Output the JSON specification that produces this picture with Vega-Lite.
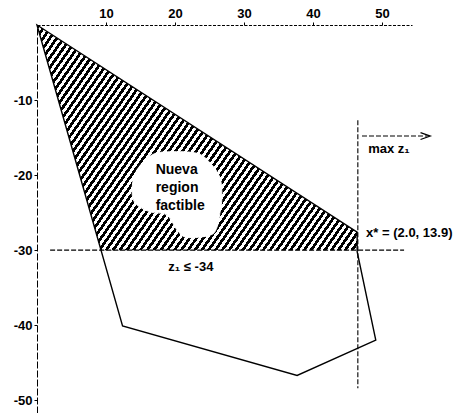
{
  "$schema": "https://vega.github.io/schema/vega-lite/v6.json",
  "width": 375,
  "height": 388,
  "autosize": {"type": "none"},
  "padding": {"left": 37, "top": 25, "right": 47, "bottom": 0},
  "background": "white",
  "config": {
    "view": {"stroke": null},
    "text": {"font": "Liberation Sans", "fontWeight": "bold", "fontSize": 13, "color": "black"},
    "axis": {
      "labelFont": "Liberation Sans",
      "labelFontWeight": "bold",
      "labelFontSize": 13,
      "labelColor": "black",
      "domainColor": "black",
      "tickColor": "black",
      "tickSize": 3,
      "labelPadding": 2,
      "grid": false,
      "title": null
    }
  },
  "datasets": {
    "hatch": [
      {"x": 0, "top": 0, "bottom": 0},
      {"x": 9.28, "top": -5.52, "bottom": -30},
      {"x": 46.4, "top": -27.6, "bottom": -30}
    ],
    "polygon": [
      {"i": 0, "x": 0, "y": 0},
      {"i": 1, "x": 46.4, "y": -27.6},
      {"i": 2, "x": 46.4, "y": -30.2},
      {"i": 3, "x": 49.1, "y": -42},
      {"i": 4, "x": 37.7, "y": -46.7},
      {"i": 5, "x": 12.4, "y": -40.1}
    ],
    "blob": [
      {"i": 0, "x": 16.7, "y": -17.3},
      {"i": 1, "x": 19.3, "y": -16.9},
      {"i": 2, "x": 23.2, "y": -17.1},
      {"i": 3, "x": 25.1, "y": -18.4},
      {"i": 4, "x": 26.5, "y": -20.3},
      {"i": 5, "x": 26.8, "y": -22.9},
      {"i": 6, "x": 26.5, "y": -25.1},
      {"i": 7, "x": 26.1, "y": -26.9},
      {"i": 8, "x": 25.1, "y": -28.0},
      {"i": 9, "x": 21.7, "y": -28.3},
      {"i": 10, "x": 20.3, "y": -27.3},
      {"i": 11, "x": 18.8, "y": -25.3},
      {"i": 12, "x": 16.4, "y": -24.9},
      {"i": 13, "x": 14.2, "y": -23.7},
      {"i": 14, "x": 13.8, "y": -21.6},
      {"i": 15, "x": 14.5, "y": -19.3}
    ],
    "guides": [
      {"x": 1.9, "x2": 53.2, "y": -30, "y2": -30},
      {"x": 46.5, "x2": 46.5, "y": -12.7, "y2": -48.4},
      {"x": 47.1, "x2": 56.6, "y": -14.8, "y2": -14.8}
    ],
    "arrowhead": [
      {"x": 57, "y": -14.8}
    ],
    "labels": [
      {"x": 17.2, "y": -19.8, "text": "Nueva", "kind": "blob"},
      {"x": 17.2, "y": -22.3, "text": "region", "kind": "blob"},
      {"x": 17.2, "y": -24.7, "text": "factible", "kind": "blob"},
      {"x": 48.0, "y": -17.1, "text": "max z₁", "kind": "left"},
      {"x": 47.7, "y": -28.3, "text": "x* = (2.0, 13.9)", "kind": "left"}
    ],
    "centered": [
      {"x": 22.3, "y": -32.8, "text": "z₁ ≤ -34"}
    ]
  },
  "layer": [
    {
      "data": {"name": "hatch"},
      "mark": {
        "type": "area",
        "stroke": null,
        "fill": {
          "gradient": "linear",
          "x1": 0, "y1": 0, "x2": 1.201, "y2": 0.592,
          "stops": [
            {"offset":0,"color":"#000"},{"offset":0.0071,"color":"#000"},{"offset":0.0071,"color":"#fff"},{"offset":0.0143,"color":"#fff"},
            {"offset":0.0143,"color":"#000"},{"offset":0.0214,"color":"#000"},{"offset":0.0214,"color":"#fff"},{"offset":0.0286,"color":"#fff"},
            {"offset":0.0286,"color":"#000"},{"offset":0.0357,"color":"#000"},{"offset":0.0357,"color":"#fff"},{"offset":0.0429,"color":"#fff"},
            {"offset":0.0429,"color":"#000"},{"offset":0.05,"color":"#000"},{"offset":0.05,"color":"#fff"},{"offset":0.0571,"color":"#fff"},
            {"offset":0.0571,"color":"#000"},{"offset":0.0643,"color":"#000"},{"offset":0.0643,"color":"#fff"},{"offset":0.0714,"color":"#fff"},
            {"offset":0.0714,"color":"#000"},{"offset":0.0786,"color":"#000"},{"offset":0.0786,"color":"#fff"},{"offset":0.0857,"color":"#fff"},
            {"offset":0.0857,"color":"#000"},{"offset":0.0929,"color":"#000"},{"offset":0.0929,"color":"#fff"},{"offset":0.1,"color":"#fff"},
            {"offset":0.1,"color":"#000"},{"offset":0.1071,"color":"#000"},{"offset":0.1071,"color":"#fff"},{"offset":0.1143,"color":"#fff"},
            {"offset":0.1143,"color":"#000"},{"offset":0.1214,"color":"#000"},{"offset":0.1214,"color":"#fff"},{"offset":0.1286,"color":"#fff"},
            {"offset":0.1286,"color":"#000"},{"offset":0.1357,"color":"#000"},{"offset":0.1357,"color":"#fff"},{"offset":0.1429,"color":"#fff"},
            {"offset":0.1429,"color":"#000"},{"offset":0.15,"color":"#000"},{"offset":0.15,"color":"#fff"},{"offset":0.1571,"color":"#fff"},
            {"offset":0.1571,"color":"#000"},{"offset":0.1643,"color":"#000"},{"offset":0.1643,"color":"#fff"},{"offset":0.1714,"color":"#fff"},
            {"offset":0.1714,"color":"#000"},{"offset":0.1786,"color":"#000"},{"offset":0.1786,"color":"#fff"},{"offset":0.1857,"color":"#fff"},
            {"offset":0.1857,"color":"#000"},{"offset":0.1929,"color":"#000"},{"offset":0.1929,"color":"#fff"},{"offset":0.2,"color":"#fff"},
            {"offset":0.2,"color":"#000"},{"offset":0.2071,"color":"#000"},{"offset":0.2071,"color":"#fff"},{"offset":0.2143,"color":"#fff"},
            {"offset":0.2143,"color":"#000"},{"offset":0.2214,"color":"#000"},{"offset":0.2214,"color":"#fff"},{"offset":0.2286,"color":"#fff"},
            {"offset":0.2286,"color":"#000"},{"offset":0.2357,"color":"#000"},{"offset":0.2357,"color":"#fff"},{"offset":0.2429,"color":"#fff"},
            {"offset":0.2429,"color":"#000"},{"offset":0.25,"color":"#000"},{"offset":0.25,"color":"#fff"},{"offset":0.2571,"color":"#fff"},
            {"offset":0.2571,"color":"#000"},{"offset":0.2643,"color":"#000"},{"offset":0.2643,"color":"#fff"},{"offset":0.2714,"color":"#fff"},
            {"offset":0.2714,"color":"#000"},{"offset":0.2786,"color":"#000"},{"offset":0.2786,"color":"#fff"},{"offset":0.2857,"color":"#fff"},
            {"offset":0.2857,"color":"#000"},{"offset":0.2929,"color":"#000"},{"offset":0.2929,"color":"#fff"},{"offset":0.3,"color":"#fff"},
            {"offset":0.3,"color":"#000"},{"offset":0.3071,"color":"#000"},{"offset":0.3071,"color":"#fff"},{"offset":0.3143,"color":"#fff"},
            {"offset":0.3143,"color":"#000"},{"offset":0.3214,"color":"#000"},{"offset":0.3214,"color":"#fff"},{"offset":0.3286,"color":"#fff"},
            {"offset":0.3286,"color":"#000"},{"offset":0.3357,"color":"#000"},{"offset":0.3357,"color":"#fff"},{"offset":0.3429,"color":"#fff"},
            {"offset":0.3429,"color":"#000"},{"offset":0.35,"color":"#000"},{"offset":0.35,"color":"#fff"},{"offset":0.3571,"color":"#fff"},
            {"offset":0.3571,"color":"#000"},{"offset":0.3643,"color":"#000"},{"offset":0.3643,"color":"#fff"},{"offset":0.3714,"color":"#fff"},
            {"offset":0.3714,"color":"#000"},{"offset":0.3786,"color":"#000"},{"offset":0.3786,"color":"#fff"},{"offset":0.3857,"color":"#fff"},
            {"offset":0.3857,"color":"#000"},{"offset":0.3929,"color":"#000"},{"offset":0.3929,"color":"#fff"},{"offset":0.4,"color":"#fff"},
            {"offset":0.4,"color":"#000"},{"offset":0.4071,"color":"#000"},{"offset":0.4071,"color":"#fff"},{"offset":0.4143,"color":"#fff"},
            {"offset":0.4143,"color":"#000"},{"offset":0.4214,"color":"#000"},{"offset":0.4214,"color":"#fff"},{"offset":0.4286,"color":"#fff"},
            {"offset":0.4286,"color":"#000"},{"offset":0.4357,"color":"#000"},{"offset":0.4357,"color":"#fff"},{"offset":0.4429,"color":"#fff"},
            {"offset":0.4429,"color":"#000"},{"offset":0.45,"color":"#000"},{"offset":0.45,"color":"#fff"},{"offset":0.4571,"color":"#fff"},
            {"offset":0.4571,"color":"#000"},{"offset":0.4643,"color":"#000"},{"offset":0.4643,"color":"#fff"},{"offset":0.4714,"color":"#fff"},
            {"offset":0.4714,"color":"#000"},{"offset":0.4786,"color":"#000"},{"offset":0.4786,"color":"#fff"},{"offset":0.4857,"color":"#fff"},
            {"offset":0.4857,"color":"#000"},{"offset":0.4929,"color":"#000"},{"offset":0.4929,"color":"#fff"},{"offset":0.5,"color":"#fff"},
            {"offset":0.5,"color":"#000"},{"offset":0.5071,"color":"#000"},{"offset":0.5071,"color":"#fff"},{"offset":0.5143,"color":"#fff"},
            {"offset":0.5143,"color":"#000"},{"offset":0.5214,"color":"#000"},{"offset":0.5214,"color":"#fff"},{"offset":0.5286,"color":"#fff"},
            {"offset":0.5286,"color":"#000"},{"offset":0.5357,"color":"#000"},{"offset":0.5357,"color":"#fff"},{"offset":0.5429,"color":"#fff"},
            {"offset":0.5429,"color":"#000"},{"offset":0.55,"color":"#000"},{"offset":0.55,"color":"#fff"},{"offset":0.5571,"color":"#fff"},
            {"offset":0.5571,"color":"#000"},{"offset":0.5643,"color":"#000"},{"offset":0.5643,"color":"#fff"},{"offset":0.5714,"color":"#fff"},
            {"offset":0.5714,"color":"#000"},{"offset":0.5786,"color":"#000"},{"offset":0.5786,"color":"#fff"},{"offset":0.5857,"color":"#fff"},
            {"offset":0.5857,"color":"#000"},{"offset":0.5929,"color":"#000"},{"offset":0.5929,"color":"#fff"},{"offset":0.6,"color":"#fff"},
            {"offset":0.6,"color":"#000"},{"offset":0.6071,"color":"#000"},{"offset":0.6071,"color":"#fff"},{"offset":0.6143,"color":"#fff"},
            {"offset":0.6143,"color":"#000"},{"offset":0.6214,"color":"#000"},{"offset":0.6214,"color":"#fff"},{"offset":0.6286,"color":"#fff"},
            {"offset":0.6286,"color":"#000"},{"offset":0.6357,"color":"#000"},{"offset":0.6357,"color":"#fff"},{"offset":0.6429,"color":"#fff"},
            {"offset":0.6429,"color":"#000"},{"offset":0.65,"color":"#000"},{"offset":0.65,"color":"#fff"},{"offset":0.6571,"color":"#fff"},
            {"offset":0.6571,"color":"#000"},{"offset":0.6643,"color":"#000"},{"offset":0.6643,"color":"#fff"},{"offset":0.6714,"color":"#fff"},
            {"offset":0.6714,"color":"#000"},{"offset":0.6786,"color":"#000"},{"offset":0.6786,"color":"#fff"},{"offset":0.6857,"color":"#fff"},
            {"offset":0.6857,"color":"#000"},{"offset":0.6929,"color":"#000"},{"offset":0.6929,"color":"#fff"},{"offset":0.7,"color":"#fff"},
            {"offset":0.7,"color":"#000"},{"offset":0.7071,"color":"#000"},{"offset":0.7071,"color":"#fff"},{"offset":0.7143,"color":"#fff"},
            {"offset":0.7143,"color":"#000"},{"offset":0.7214,"color":"#000"},{"offset":0.7214,"color":"#fff"},{"offset":0.7286,"color":"#fff"},
            {"offset":0.7286,"color":"#000"},{"offset":0.7357,"color":"#000"},{"offset":0.7357,"color":"#fff"},{"offset":0.7429,"color":"#fff"},
            {"offset":0.7429,"color":"#000"},{"offset":0.75,"color":"#000"},{"offset":0.75,"color":"#fff"},{"offset":0.7571,"color":"#fff"},
            {"offset":0.7571,"color":"#000"},{"offset":0.7643,"color":"#000"},{"offset":0.7643,"color":"#fff"},{"offset":0.7714,"color":"#fff"},
            {"offset":0.7714,"color":"#000"},{"offset":0.7786,"color":"#000"},{"offset":0.7786,"color":"#fff"},{"offset":0.7857,"color":"#fff"},
            {"offset":0.7857,"color":"#000"},{"offset":0.7929,"color":"#000"},{"offset":0.7929,"color":"#fff"},{"offset":0.8,"color":"#fff"},
            {"offset":0.8,"color":"#000"},{"offset":0.8071,"color":"#000"},{"offset":0.8071,"color":"#fff"},{"offset":0.8143,"color":"#fff"},
            {"offset":0.8143,"color":"#000"},{"offset":0.8214,"color":"#000"},{"offset":0.8214,"color":"#fff"},{"offset":0.8286,"color":"#fff"},
            {"offset":0.8286,"color":"#000"},{"offset":0.8357,"color":"#000"},{"offset":0.8357,"color":"#fff"},{"offset":0.8429,"color":"#fff"},
            {"offset":0.8429,"color":"#000"},{"offset":0.85,"color":"#000"},{"offset":0.85,"color":"#fff"},{"offset":0.8571,"color":"#fff"},
            {"offset":0.8571,"color":"#000"},{"offset":0.8643,"color":"#000"},{"offset":0.8643,"color":"#fff"},{"offset":0.8714,"color":"#fff"},
            {"offset":0.8714,"color":"#000"},{"offset":0.8786,"color":"#000"},{"offset":0.8786,"color":"#fff"},{"offset":0.8857,"color":"#fff"},
            {"offset":0.8857,"color":"#000"},{"offset":0.8929,"color":"#000"},{"offset":0.8929,"color":"#fff"},{"offset":0.9,"color":"#fff"},
            {"offset":0.9,"color":"#000"},{"offset":0.9071,"color":"#000"},{"offset":0.9071,"color":"#fff"},{"offset":0.9143,"color":"#fff"},
            {"offset":0.9143,"color":"#000"},{"offset":0.9214,"color":"#000"},{"offset":0.9214,"color":"#fff"},{"offset":0.9286,"color":"#fff"},
            {"offset":0.9286,"color":"#000"},{"offset":0.9357,"color":"#000"},{"offset":0.9357,"color":"#fff"},{"offset":0.9429,"color":"#fff"},
            {"offset":0.9429,"color":"#000"},{"offset":0.95,"color":"#000"},{"offset":0.95,"color":"#fff"},{"offset":0.9571,"color":"#fff"},
            {"offset":0.9571,"color":"#000"},{"offset":0.9643,"color":"#000"},{"offset":0.9643,"color":"#fff"},{"offset":0.9714,"color":"#fff"},
            {"offset":0.9714,"color":"#000"},{"offset":0.9786,"color":"#000"},{"offset":0.9786,"color":"#fff"},{"offset":0.9857,"color":"#fff"},
            {"offset":0.9857,"color":"#000"},{"offset":0.9929,"color":"#000"},{"offset":0.9929,"color":"#fff"},{"offset":1,"color":"#fff"}
          ]
        }
      },
      "encoding": {
        "x": {
          "field": "x", "type": "quantitative",
          "scale": {"domain": [0, 54.35], "nice": false, "zero": false},
          "axis": {"orient": "top", "values": [10, 20, 30, 40, 50], "domainDash": [3, 1.5], "domainWidth": 1}
        },
        "y": {
          "field": "top", "type": "quantitative",
          "scale": {"domain": [-51.7, 0], "nice": false, "zero": false},
          "axis": {"orient": "left", "values": [-10, -20, -30, -40, -50], "domainDash": [7, 2], "domainWidth": 1, "labelExpr": "'-' + abs(datum.value)"}
        },
        "y2": {"field": "bottom"}
      }
    },
    {
      "data": {"name": "blob"},
      "mark": {"type": "line", "interpolate": "cardinal-closed", "fill": "white", "stroke": "white", "strokeWidth": 1},
      "encoding": {
        "x": {"field": "x", "type": "quantitative"},
        "y": {"field": "y", "type": "quantitative"},
        "order": {"field": "i"}
      }
    },
    {
      "data": {"name": "polygon"},
      "mark": {"type": "line", "interpolate": "linear-closed", "color": "black", "strokeWidth": 1.4},
      "encoding": {
        "x": {"field": "x", "type": "quantitative"},
        "y": {"field": "y", "type": "quantitative"},
        "order": {"field": "i"}
      }
    },
    {
      "data": {"name": "guides"},
      "mark": {"type": "rule", "color": "black", "strokeWidth": 1.1, "strokeDash": [5, 2]},
      "encoding": {
        "x": {"field": "x", "type": "quantitative"},
        "x2": {"field": "x2"},
        "y": {"field": "y", "type": "quantitative"},
        "y2": {"field": "y2"}
      }
    },
    {
      "data": {"name": "arrowhead"},
      "mark": {"type": "point", "shape": "M-1,-0.35L0,0L-1,0.35", "filled": false, "stroke": "black", "strokeWidth": 1.2, "size": 380, "opacity": 1},
      "encoding": {
        "x": {"field": "x", "type": "quantitative"},
        "y": {"field": "y", "type": "quantitative"}
      }
    },
    {
      "data": {"name": "labels"},
      "mark": {"type": "text", "align": "left", "baseline": "alphabetic"},
      "encoding": {
        "x": {"field": "x", "type": "quantitative"},
        "y": {"field": "y", "type": "quantitative"},
        "text": {"field": "text"},
        "size": {"field": "kind", "type": "nominal", "scale": {"domain": ["blob", "left"], "range": [14, 13]}, "legend": null}
      }
    },
    {
      "data": {"name": "centered"},
      "mark": {"type": "text", "align": "center", "baseline": "alphabetic", "fontSize": 13},
      "encoding": {
        "x": {"field": "x", "type": "quantitative"},
        "y": {"field": "y", "type": "quantitative"},
        "text": {"field": "text"}
      }
    }
  ]
}
